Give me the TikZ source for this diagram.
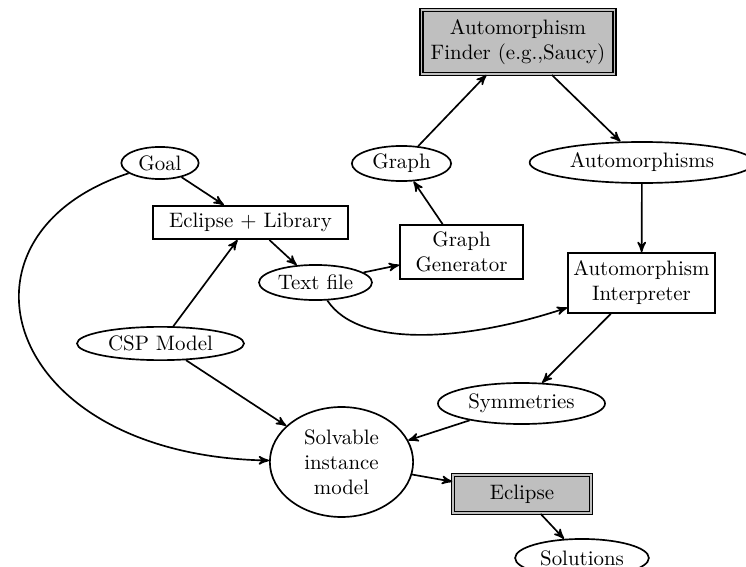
\documentclass[tikz,border=0pt]{standalone}
\usepackage{tikz}
\usetikzlibrary{shapes}
\usetikzlibrary{arrows}
\tikzset{state/.style={ellipse, draw, thick, inner sep=0pt, align=center}}
\tikzset{box/.style={rectangle, draw, thick, inner sep=0pt, align=center}}
\tikzset{dbox/.style={box, double=lightgray, double distance=.6pt, fill=lightgray}}

\begin{document}
\begin{tikzpicture}[x=1.682cm,y=-1.682cm,>=stealth']
  \useasboundingbox (0,0) rectangle (7.46,5.67);
  \foreach \x/\y/\w/\h/\lab/\txt in {
    1.60/1.63/1.30/0.54/goal/Goal,
    4.015/1.635/1.67/0.59/graph/Graph,
    6.42/1.625/3.78/0.69/autos/Automorphisms,
    3.155/2.825/1.90/0.59/txt/Text file,
    1.605/3.435/2.81/0.56/csp/CSP Model,
    5.215/4.035/2.81/0.69/sym/Symmetries,
    3.415/4.62/2.41/1.85/solv/Solvable\\instance\\model,
    5.82/5.58/2.25/0.64/sol/Solutions%
  } {
    \node[state, minimum width=\w cm, minimum height=\h cm] (\lab) at (\x, \y) {\txt};
  }

  \node[dbox, minimum width=3.25cm, minimum height=1.08cm] (finder) at (5.18, 0.42) {Automorphism\\Finder (e.g.,Saucy)};
  \node[box, minimum width=3.28cm, minimum height=0.56cm] (ecllib) at (2.505, 2.225) {Eclipse + Library};
  \node[box, minimum width=2.07cm, minimum height=0.91cm] (gen) at (4.615, 2.52) {Graph\\Generator};
  \node[box, minimum width=2.47cm, minimum height=1.01cm] (interp) at (6.415, 2.83) {Automorphism\\Interpreter};
  \node[dbox, minimum width=2.32cm, minimum height=0.64cm] (ecl) at (5.22, 4.94) {Eclipse};

  \foreach \u/\v in {
    goal/ecllib,
    csp/ecllib,
    ecllib/txt,
    txt/gen,
    gen/graph,
    graph/finder,
    finder/autos,
    autos/interp,
    interp/sym,
    sym/solv,
    csp/solv,
    solv/ecl,
    ecl/sol%
  }{
    \draw[->, thick] (\u) -- (\v);
  }
  \draw[->, thick] (goal) .. controls (-0.6,2.35) and (0,4.55) .. (solv);
  \draw[->, thick] (txt) .. controls (3.6,3.5) and (4.7,3.4) .. (interp);

\end{tikzpicture}
\end{document}
